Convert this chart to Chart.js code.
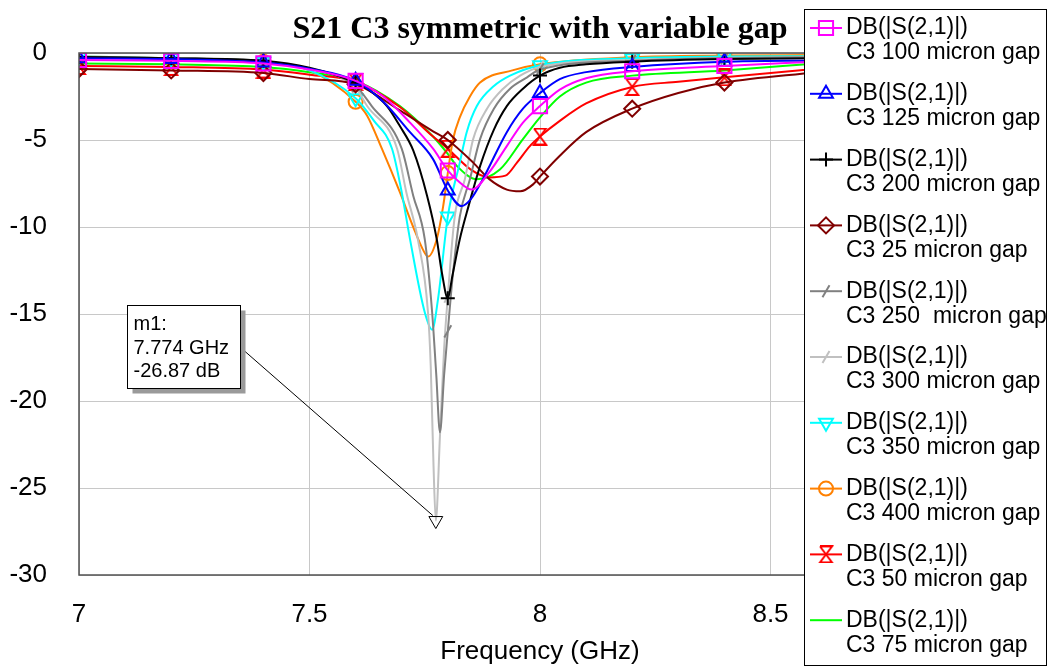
<!DOCTYPE html>
<html>
<head>
<meta charset="utf-8">
<title>S21 C3 symmetric with variable gap</title>
<script src="https://cdn.jsdelivr.net/npm/chart.js@4.4.1/dist/chart.umd.min.js"></script>
<style>
  html, body { margin: 0; padding: 0; background: #fff; }
  #wrap { width: 1048px; height: 668px; }
</style>
</head>
<body>
<div id="wrap"><canvas id="s21Chart" width="1048" height="668"></canvas></div>
<script>
// S21 (dB) vs frequency (GHz)
const gap100Freq = [7.0, 7.2, 7.4, 7.5, 7.6, 7.66, 7.718, 7.768, 7.8, 7.82, 7.852, 7.89, 7.928, 7.963, 8.0, 8.043, 8.1, 8.2, 8.4, 8.6];
const gap100Db   = [-0.4, -0.45, -0.6, -0.95, -1.6, -2.5, -4.0, -5.5, -6.75, -7.3, -7.85, -6.85, -5.35, -4.0, -3.05, -2.1, -1.45, -1.05, -0.75, -0.5];

const gap125Freq = [7.0, 7.2, 7.4, 7.5, 7.6, 7.66, 7.718, 7.768, 7.8, 7.83, 7.85, 7.876, 7.928, 7.963, 8.0, 8.043, 8.1, 8.2, 8.4, 8.6];
const gap125Db   = [-0.3, -0.35, -0.55, -0.9, -1.6, -2.8, -4.55, -6.1, -7.9, -8.8, -8.4, -7.25, -4.55, -3.2, -2.3, -1.5, -1.1, -0.8, -0.5, -0.43];

const gap200Freq = [7.0, 7.2, 7.4, 7.5, 7.6, 7.625, 7.668, 7.696, 7.725, 7.755, 7.776, 7.787, 7.8, 7.81, 7.826, 7.845, 7.87, 7.9, 7.928, 7.963, 8.0, 8.043, 8.1, 8.2, 8.4, 8.6];
const gap200Db   = [-0.23, -0.3, -0.45, -0.85, -1.7, -2.05, -3.05, -4.2, -5.6, -8.2, -10.7, -12.6, -14.1, -12.8, -10.7, -8.8, -6.5, -4.4, -3.05, -2.05, -1.3, -0.85, -0.65, -0.5, -0.35, -0.3];

const gap25Freq = [7.0, 7.2, 7.4, 7.5, 7.6, 7.696, 7.768, 7.8, 7.855, 7.89, 7.928, 7.957, 7.985, 8.0, 8.043, 8.1, 8.2, 8.3, 8.4, 8.6];
const gap25Db   = [-0.92, -1.0, -1.15, -1.5, -1.8, -3.3, -4.5, -5.0, -6.3, -7.25, -7.85, -7.95, -7.55, -7.1, -5.9, -4.55, -3.2, -2.3, -1.7, -1.1];

const gap250Freq = [7.0, 7.2, 7.4, 7.5, 7.6, 7.635, 7.7, 7.725, 7.75, 7.766, 7.775, 7.783, 7.792, 7.8, 7.81, 7.826, 7.848, 7.87, 7.9, 7.935, 7.972, 8.0, 8.2, 8.4, 8.6];
const gap250Db   = [-0.25, -0.3, -0.5, -0.9, -1.9, -3.05, -5.5, -8.2, -10.7, -14.9, -18.5, -21.8, -18.5, -16.0, -13.0, -9.4, -7.25, -4.95, -3.2, -2.05, -1.4, -0.95, -0.45, -0.3, -0.25];

const gap300Freq = [7.0, 7.2, 7.4, 7.5, 7.6, 7.625, 7.69, 7.71, 7.735, 7.757, 7.763, 7.769, 7.774, 7.783, 7.792, 7.8, 7.815, 7.837, 7.855, 7.885, 7.92, 7.957, 8.0, 8.2, 8.4, 8.6];
const gap300Db   = [-0.25, -0.3, -0.5, -0.9, -2.0, -3.05, -5.5, -8.0, -10.7, -14.9, -18.0, -23.7, -26.87, -22.0, -17.0, -14.0, -9.4, -7.25, -4.95, -3.2, -2.05, -1.3, -0.8, -0.4, -0.28, -0.22];

const gap350Freq = [7.0, 7.2, 7.4, 7.5, 7.6, 7.64, 7.679, 7.7, 7.718, 7.75, 7.766, 7.779, 7.8, 7.826, 7.841, 7.863, 7.9, 7.935, 8.0, 8.2, 8.4, 8.6];
const gap350Db   = [-0.2, -0.3, -0.5, -1.0, -2.6, -3.9, -5.5, -8.0, -10.7, -14.9, -15.9, -14.1, -9.4, -6.3, -4.55, -3.05, -1.9, -1.3, -0.7, -0.3, -0.2, -0.18];

const gap400Freq = [7.0, 7.2, 7.4, 7.5, 7.6, 7.625, 7.657, 7.696, 7.725, 7.746, 7.757, 7.776, 7.79, 7.8, 7.811, 7.826, 7.848, 7.87, 7.94, 8.0, 8.2, 8.4, 8.6];
const gap400Db   = [-0.2, -0.3, -0.5, -1.0, -2.8, -3.6, -5.5, -8.0, -10.0, -11.3, -11.7, -10.7, -8.8, -6.9, -5.0, -3.7, -2.5, -1.7, -1.0, -0.65, -0.25, -0.15, -0.12];

const gap50Freq = [7.0, 7.2, 7.4, 7.5, 7.6, 7.696, 7.768, 7.8, 7.85, 7.89, 7.925, 7.95, 7.978, 8.0, 8.043, 8.1, 8.2, 8.3, 8.4, 8.6];
const gap50Db   = [-0.75, -0.8, -0.95, -1.25, -1.65, -3.1, -4.8, -5.5, -6.7, -7.15, -7.05, -6.3, -5.35, -4.8, -3.9, -2.9, -1.95, -1.65, -1.4, -0.9];

const gap75Freq = [7.0, 7.2, 7.4, 7.5, 7.6, 7.696, 7.768, 7.8, 7.82, 7.863, 7.913, 7.963, 8.0, 8.043, 8.1, 8.2, 8.4, 8.6];
const gap75Db   = [-0.6, -0.65, -0.8, -1.1, -1.6, -3.05, -4.8, -5.8, -6.5, -7.25, -6.7, -4.95, -3.7, -2.5, -1.7, -1.3, -1.0, -0.6];

// marker m1
const m1Freq = 7.774;
const m1Level = -26.87;

const freqTicks = [7, 7.5, 8, 8.5, 9];
const dbTicks = [0, -5, -10, -15, -20, -25, -30];
const traceName = "DB(|S(2,1)|)";
const chartTitle = "S21 C3 symmetric with variable gap";

const FONT = '"Liberation Sans", Arial, sans-serif';

// hourglass marker (no built-in point style for it)
function hourglass(color) {
  const c = document.createElement("canvas");
  c.width = 16; c.height = 18;
  const g = c.getContext("2d");
  g.strokeStyle = color;
  g.lineWidth = 2;
  g.beginPath();
  g.moveTo(2, 1); g.lineTo(14, 1); g.lineTo(2, 17); g.lineTo(14, 17); g.lineTo(2, 1);
  g.stroke();
  return c;
}

// markers every 0.2 GHz, like the simulator does
function isMarkerFreq(f) {
  return Math.abs(f * 5 - Math.round(f * 5)) < 1e-6;
}

function toPoints(fr, db) {
  return fr.map((f, i) => ({ x: f, y: db[i] }));
}

const series = [
  { label: "C3 100 micron gap", fr: gap100Freq, db: gap100Db, color: "#FF00FF", style: "rect", r: 10, rot: 0 },
  { label: "C3 125 micron gap", fr: gap125Freq, db: gap125Db, color: "#0000FF", style: "triangle", r: 8, rot: 0 },
  { label: "C3 200 micron gap", fr: gap200Freq, db: gap200Db, color: "#000000", style: "cross", r: 7, rot: 0 },
  { label: "C3 25 micron gap", fr: gap25Freq, db: gap25Db, color: "#800000", style: "rectRot", r: 8, rot: 0 },
  { label: "C3 250  micron gap", fr: gap250Freq, db: gap250Db, color: "#808080", style: "line", r: 7, rot: -60 },
  { label: "C3 300 micron gap", fr: gap300Freq, db: gap300Db, color: "#C0C0C0", style: "line", r: 7, rot: -60 },
  { label: "C3 350 micron gap", fr: gap350Freq, db: gap350Db, color: "#00FFFF", style: "triangle", r: 8, rot: 180 },
  { label: "C3 400 micron gap", fr: gap400Freq, db: gap400Db, color: "#FF8000", style: "circle", r: 7, rot: 0 },
  { label: "C3 50 micron gap", fr: gap50Freq, db: gap50Db, color: "#FF0000", style: hourglass("#FF0000"), r: 8, rot: 0 },
  { label: "C3 75 micron gap", fr: gap75Freq, db: gap75Db, color: "#00FF00", style: false, r: 0, rot: 0 },
];

const datasets = series.map(s => ({
  label: s.label,
  data: toPoints(s.fr, s.db),
  borderColor: s.color,
  backgroundColor: "rgba(0,0,0,0)",
  borderWidth: 2,
  cubicInterpolationMode: "monotone",
  pointStyle: s.style,
  pointRotation: s.rot,
  pointBorderColor: s.color,
  pointBackgroundColor: "rgba(0,0,0,0)",
  pointBorderWidth: 2,
  pointRadius: ctx => (s.r && ctx.raw && isMarkerFreq(ctx.raw.x) ? s.r : 0),
  pointHoverRadius: 0,
}));

datasets.push({
  label: "m1",
  data: [{ x: m1Freq, y: m1Level }],
  showLine: false,
  pointStyle: "triangle",
  pointRotation: 180,
  pointRadius: 8,
  pointBorderWidth: 1,
  pointBorderColor: "#000",
  pointBackgroundColor: "rgba(0,0,0,0)",
  order: -1,
});

// frame, title, marker box and legend drawn on top
const overlays = {
  id: "overlays",
  afterDraw(chart) {
    const { ctx, chartArea: a, scales } = chart;
    ctx.save();

    // plot frame
    ctx.strokeStyle = "#505050";
    ctx.lineWidth = 1.5;
    ctx.strokeRect(a.left, a.top, a.right - a.left, a.bottom - a.top);

    // title
    ctx.fillStyle = "#000";
    ctx.font = 'bold 32px "Liberation Serif", "Times New Roman", serif';
    ctx.textAlign = "center";
    ctx.textBaseline = "alphabetic";
    ctx.fillText(chartTitle, (a.left + a.right) / 2, 38);

    // m1 marker callout
    const mx = scales.x.getPixelForValue(m1Freq);
    const my = scales.y.getPixelForValue(m1Level);
    const bx = Math.round(scales.x.getPixelForValue(7.104)) + 0.5;
    const by = Math.round(scales.y.getPixelForValue(-14.5)) + 0.5;
    const bw = 113, bh = 83;
    ctx.strokeStyle = "#000";
    ctx.lineWidth = 1;
    ctx.beginPath();
    ctx.moveTo(bx + bw, by + 42);
    ctx.lineTo(mx - 3, my - 5);
    ctx.stroke();
    ctx.fillStyle = "#9a9a9a";
    ctx.fillRect(bx + 5, by + 5, bw, bh);
    ctx.fillStyle = "#fff";
    ctx.fillRect(bx, by, bw, bh);
    ctx.strokeRect(bx, by, bw, bh);
    ctx.fillStyle = "#000";
    ctx.font = "20px " + FONT;
    ctx.textAlign = "left";
    ctx.fillText("m1:", bx + 6, by + 24);
    ctx.fillText(m1Freq.toFixed(3) + " GHz", bx + 6, by + 48);
    ctx.fillText(m1Level.toFixed(2) + " dB", bx + 6, by + 71);

    // legend box
    const lx = 804.5, ly = 9.5, lw = 242, lh = 656;
    ctx.fillStyle = "#fff";
    ctx.fillRect(lx, ly, lw, lh);
    ctx.strokeStyle = "#000";
    ctx.strokeRect(lx, ly, lw, lh);
    ctx.font = "23px " + FONT;
    ctx.textBaseline = "middle";
    series.forEach((s, i) => {
      const y = 28 + i * 65.8;
      ctx.strokeStyle = s.color;
      ctx.lineWidth = 2;
      ctx.beginPath();
      ctx.moveTo(810, y);
      ctx.lineTo(842, y);
      ctx.stroke();
      if (s.style) {
        ctx.fillStyle = "rgba(0,0,0,0)";
        Chart.helpers.drawPoint(ctx, { pointStyle: s.style, rotation: s.rot, radius: s.r, borderWidth: 2 }, 826, y);
      }
      ctx.fillStyle = "#000";
      ctx.fillText(traceName, 846, y);
      ctx.fillText(s.label, 846, y + 25);
    });
    ctx.restore();
  }
};

const chart = new Chart(document.getElementById("s21Chart").getContext("2d"), {
  type: "line",
  data: { datasets: datasets },
  options: {
    responsive: false,
    animation: false,
    events: [],
    layout: { padding: { top: 53, left: 0, right: 47, bottom: 0 } },
    plugins: {
      legend: { display: false },
      tooltip: { enabled: false },
      title: { display: false },
    },
    scales: {
      x: {
        type: "linear",
        min: 7,
        max: 9,
        afterFit: scale => { scale.height = 93; },
        afterBuildTicks: scale => { scale.ticks = freqTicks.map(v => ({ value: v })); },
        grid: { color: "#c8c8c8", lineWidth: 1, drawTicks: false },
        border: { display: false },
        ticks: { font: { family: FONT, size: 26 }, color: "#000", padding: 24, maxRotation: 0, callback: v => String(v) },
        title: { display: true, text: "Frequency (GHz)", font: { family: FONT, size: 26 }, color: "#000", padding: { top: 0, bottom: 1 } },
      },
      y: {
        type: "linear",
        min: -30,
        max: 0,
        afterFit: scale => { scale.width = 79; },
        afterBuildTicks: scale => { scale.ticks = dbTicks.map(v => ({ value: v })); },
        grid: { color: "#c8c8c8", lineWidth: 1, drawTicks: false },
        border: { display: false },
        ticks: { font: { family: FONT, size: 26 }, color: "#000", padding: 32, callback: v => String(v) },
      },
    },
  },
  plugins: [overlays],
});
</script>
</body>
</html>
